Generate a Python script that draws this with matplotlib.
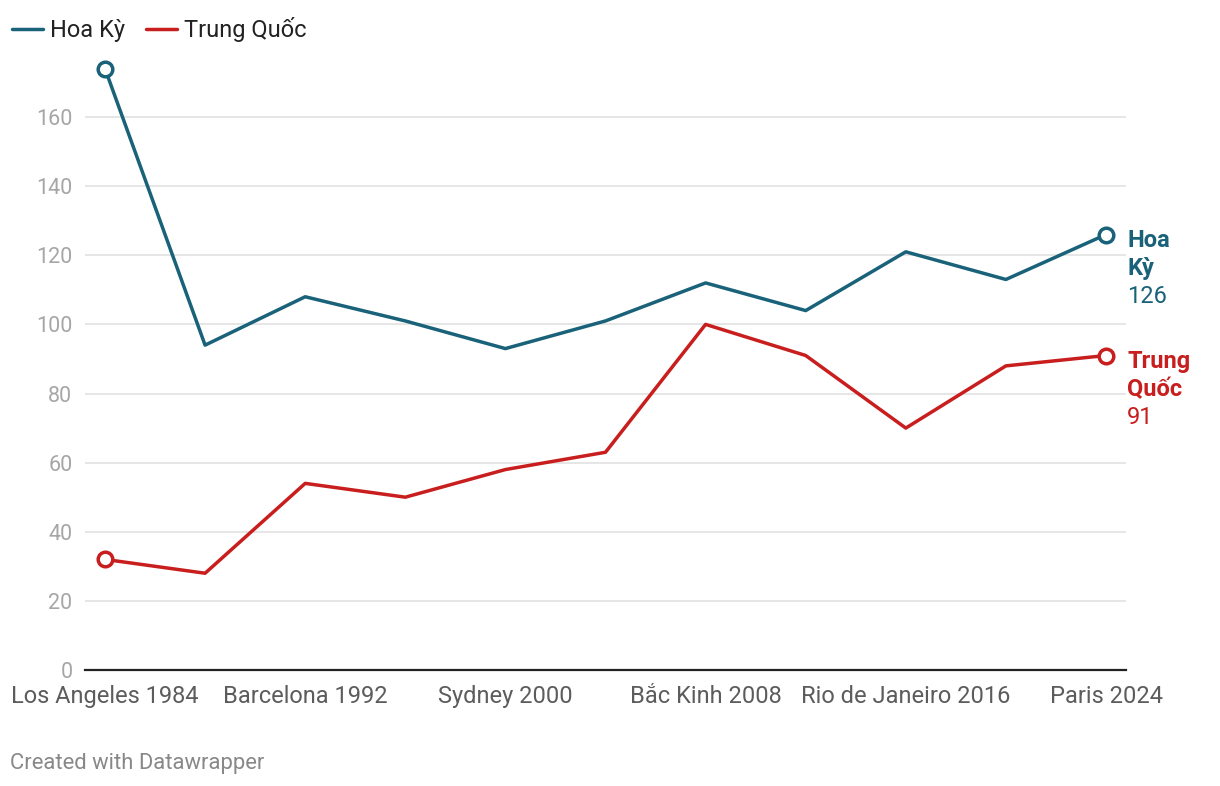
import matplotlib.pyplot as plt

years = [1984, 1988, 1992, 1996, 2000, 2004, 2008, 2012, 2016, 2020, 2024]
usa = [174, 94, 108, 101, 93, 101, 112, 104, 121, 113, 126]
china = [32, 28, 54, 50, 58, 63, 100, 91, 70, 88, 91]

tick_years = [1984, 1992, 2000, 2008, 2016, 2024]
tick_labels = ["Los Angeles 1984", "Barcelona 1992", "Sydney 2000",
               "Bắc Kinh 2008", "Rio de Janeiro 2016", "Paris 2024"]
yticks = [0, 20, 40, 60, 80, 100, 120, 140, 160]

us_color = "#19627a"
cn_color = "#c81e1e"

plt.rcParams['font.family'] = ['Roboto', 'DejaVu Sans']

fig = plt.figure(figsize=(12.2, 7.86), dpi=100)
ax = fig.add_axes([85 / 1220, 1 - 670 / 786, (1126 - 85) / 1220, (670 - 60) / 786])

ax.plot(years, usa, color=us_color, lw=2.5, label="Hoa Kỳ", solid_capstyle='round')
ax.plot(years, china, color=cn_color, lw=2.5, label="Trung Quốc", solid_capstyle='round')
for series, c in [(usa, us_color), (china, cn_color)]:
    ax.plot([years[0], years[-1]], [series[0], series[-1]], ls='none', marker='o',
            ms=10.5, mfc='white', mec=c, mew=2.5, zorder=5)

ax.set_xlim(1984 - 20 / 25.03, 2024 + 20 / 25.03)
ax.set_ylim(0, (670 - 60) / 3.456)
ax.set_yticks(yticks)
ax.set_xticks(tick_years)
ax.set_xticklabels(tick_labels)
ax.grid(axis='y', color='#e2e2e2', lw=1.2)
ax.set_axisbelow(True)
for s in ['top', 'right', 'left']:
    ax.spines[s].set_visible(False)
ax.spines['bottom'].set_color('#222222')
ax.spines['bottom'].set_linewidth(1.6)
ax.spines['bottom'].set_zorder(4)
ax.tick_params(axis='y', length=0, pad=9, labelsize=15.5, labelcolor='#a6a6a6')
ax.tick_params(axis='x', length=0, pad=11, labelsize=17, labelcolor='#5c5c5c')

# end labels, one line at a time
for series, c, name in [(usa, us_color, ["Hoa", "Kỳ"]), (china, cn_color, ["Trung", "Quốc"])]:
    lines = [(name[0], 'bold'), (name[1], 'bold'), (str(series[-1]), 'normal')]
    for i, (txt, w) in enumerate(lines):
        ax.annotate(txt, (years[-1], series[-1]), xytext=(21, -6 - 28 * i),
                    textcoords='offset pixels', color=c, fontsize=17, fontweight=w,
                    va='center', ha='left', annotation_clip=False)

leg = fig.legend(loc='center left', bbox_to_anchor=(12 / 1220, 1 - 30 / 786), ncol=2,
                 frameon=False, fontsize=17, handlelength=1.3, handletextpad=0.3,
                 columnspacing=0.9, borderpad=0, borderaxespad=0)
for t in leg.get_texts():
    t.set_color('#222222')

fig.text(10 / 1220, 1 - 763 / 786, "Created with Datawrapper", fontsize=15.8,
         color='#888888', va='center', ha='left')

fig.savefig("out.png", dpi=100)
